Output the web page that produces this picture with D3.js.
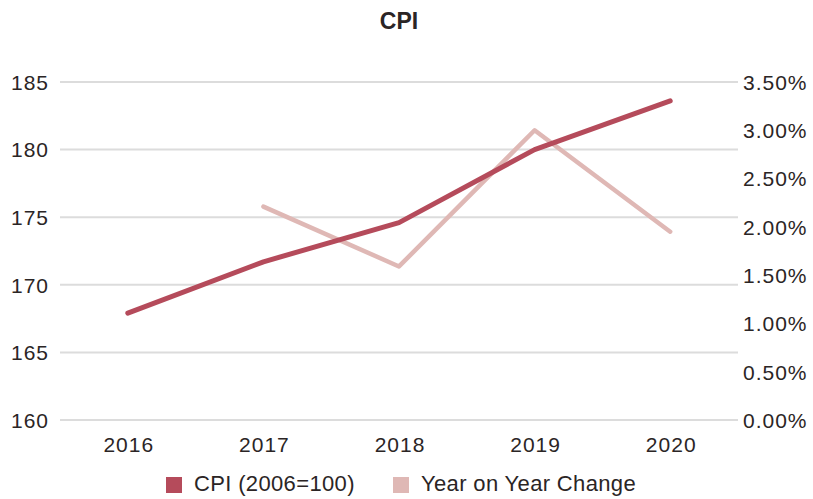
<!DOCTYPE html>
<html>
<head>
<meta charset="utf-8">
<script src="https://cdn.jsdelivr.net/npm/d3@7"></script>
<style>
  body { margin: 0; background: #fff; }
  text { font-family: "Liberation Sans", Arial, sans-serif; fill: #2b2525; }
  .tick text { font-size: 21px; letter-spacing: 1px; }
  .legend text { font-size: 22px; letter-spacing: 0.35px; }
</style>
</head>
<body>
<div id="chart"></div>
<script>
var years = ["2016", "2017", "2018", "2019", "2020"];
var cpi = [167.9, 171.7, 174.6, 180.0, 183.6];
var yoy = [null, 0.0221, 0.0159, 0.0300, 0.0195];
var cpi_ticks = [160, 165, 170, 175, 180, 185];
var yoy_ticks = [0, 0.005, 0.01, 0.015, 0.02, 0.025, 0.03, 0.035];
var series_names = ["CPI (2006=100)", "Year on Year Change"];
var colors = ["#b54b5b", "#dfb8b5"];

var width = 813, height = 499;
var margin = { top: 82, right: 75, bottom: 79, left: 60 };

var svg = d3.select("#chart").append("svg")
    .attr("width", width)
    .attr("height", height);

var x = d3.scaleBand().domain(years).range([margin.left, width - margin.right]);
var y = d3.scaleLinear().domain([160, 185]).range([height - margin.bottom, margin.top]);
var y2 = d3.scaleLinear().domain([0, 0.035]).range([height - margin.bottom, margin.top]);

// title
svg.append("text")
    .attr("x", 399)
    .attr("y", 29)
    .attr("text-anchor", "middle")
    .style("font-size", "23px")
    .style("font-weight", "bold")
    .text("CPI");

// gridlines
svg.append("g").selectAll("line")
    .data(cpi_ticks)
    .enter().append("line")
    .attr("x1", margin.left)
    .attr("x2", width - margin.right)
    .attr("y1", function (d) { return y(d); })
    .attr("y2", function (d) { return y(d); })
    .attr("stroke", "#dcdcdc")
    .attr("stroke-width", 2);

// left axis
var left_axis = svg.append("g")
    .attr("transform", "translate(" + (margin.left - 11) + ",0)")
    .call(d3.axisLeft(y).tickValues(cpi_ticks).tickSize(0).tickPadding(0));
left_axis.select(".domain").remove();
left_axis.selectAll("text").attr("dy", "0.35em");

// right axis
var right_axis = svg.append("g")
    .attr("transform", "translate(" + (width - margin.right + 5) + ",0)")
    .call(d3.axisRight(y2).tickValues(yoy_ticks).tickSize(0).tickPadding(0).tickFormat(d3.format(".2%")));
right_axis.select(".domain").remove();
right_axis.selectAll("text").attr("dy", "0.35em");

// x axis
var x_axis = svg.append("g")
    .attr("transform", "translate(1," + (height - margin.bottom) + ")")
    .call(d3.axisBottom(x).tickSize(0).tickPadding(0));
x_axis.select(".domain").remove();
x_axis.selectAll("text").attr("y", 32).attr("dy", 0);

var cx = function (d, i) { return x(years[i]) + x.bandwidth() / 2; };

var cpi_line = d3.line()
    .x(cx)
    .y(function (d) { return y(d); });

var yoy_line = d3.line()
    .defined(function (d) { return d !== null; })
    .x(cx)
    .y(function (d) { return y2(d); });

svg.append("path")
    .datum(yoy)
    .attr("d", yoy_line)
    .attr("fill", "none")
    .attr("stroke", colors[1])
    .attr("stroke-width", 4.5)
    .attr("stroke-linecap", "round")
    .attr("stroke-linejoin", "round");

svg.append("path")
    .datum(cpi)
    .attr("d", cpi_line)
    .attr("fill", "none")
    .attr("stroke", colors[0])
    .attr("stroke-width", 5)
    .attr("stroke-linecap", "round")
    .attr("stroke-linejoin", "round");

// legend
var legend_x = [166, 393];
var legend = svg.append("g").attr("class", "legend").selectAll("g")
    .data(series_names)
    .enter().append("g")
    .attr("transform", function (d, i) { return "translate(" + legend_x[i] + ",477)"; });

legend.append("rect")
    .attr("width", 16)
    .attr("height", 16)
    .attr("fill", function (d, i) { return colors[i]; });

legend.append("text")
    .attr("x", 28)
    .attr("y", 14)
    .text(function (d) { return d; });
</script>
</body>
</html>
